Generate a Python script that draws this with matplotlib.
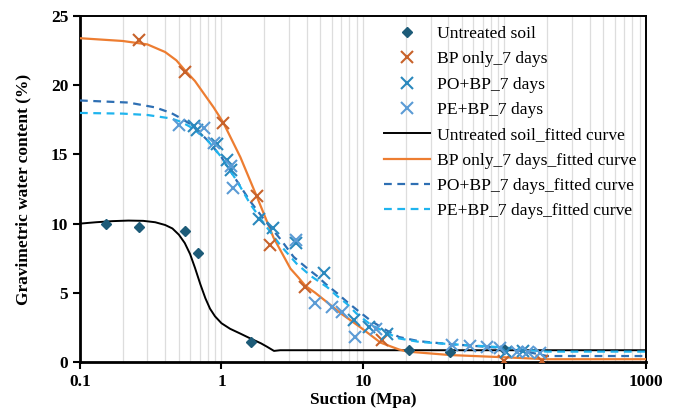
import matplotlib
matplotlib.use("Agg")
import matplotlib.pyplot as plt
from matplotlib.ticker import FixedLocator, LogLocator, NullFormatter

plt.rcParams["font.family"] = ["Liberation Serif", "DejaVu Serif"]

# --- measured points ---
untreated_x = [0.152, 0.263, 0.548, 0.685, 1.62, 21, 41.5, 100]
untreated_y = [9.95, 9.78, 9.49, 7.85, 1.47, 0.9, 0.7, 0.95]

bp_x = [0.263, 0.548, 1.03, 1.77, 2.22, 3.92, 13.7, 98.5, 184]
bp_y = [23.27, 20.98, 17.3, 12.0, 8.45, 5.4, 1.59, 0.08, 0.05]

po_x = [0.64, 0.67, 0.93, 1.1, 1.17, 1.83, 2.33, 3.37, 5.28, 8.6, 11, 14.8, 102, 135]
po_y = [17.05, 16.8, 15.75, 14.6, 13.9, 10.3, 9.7, 8.6, 6.4, 3.0, 2.55, 2.0, 0.75, 0.82]

pe_x = [0.50, 0.75, 0.89, 1.16, 1.2, 3.37, 4.6, 6.05, 7.1, 8.85, 12.3, 42.6, 57, 75,
        93.5, 122, 147, 178]
pe_y = [17.1, 16.9, 15.8, 14.2, 12.55, 8.85, 4.25, 4.0, 3.6, 1.8, 2.4, 1.25, 1.15, 1.1,
        0.98, 0.75, 0.75, 0.65]

# --- fitted curves ---
fit_untreated_x = [0.1, 0.13, 0.17, 0.22, 0.28, 0.34, 0.4, 0.45, 0.5, 0.55, 0.6, 0.65,
                   0.71, 0.77, 0.83, 0.9, 1.0, 1.15, 1.36, 1.6, 1.9, 2.1, 2.35, 2.6,
                   10, 100, 1000]
fit_untreated_y = [10.0, 10.1, 10.18, 10.22, 10.2, 10.1, 9.9, 9.65, 9.2, 8.6, 7.8, 6.8,
                   5.6, 4.6, 3.85, 3.3, 2.8, 2.4, 2.05, 1.7, 1.35, 1.1, 0.8, 0.85,
                   0.85, 0.85, 0.85]

fit_bp_x = [0.1, 0.2, 0.3, 0.4, 0.48, 0.55, 0.65, 0.75, 0.88, 1.03, 1.36, 1.77, 2.33,
            3.07, 3.5, 3.92, 4.6, 5.6, 7, 8.2, 9.6, 11.3, 13.3, 18, 20.6, 41.5, 100,
            200, 1000]
fit_bp_y = [23.4, 23.2, 22.95, 22.4, 21.8, 21.1, 20.3, 19.4, 18.4, 17.3, 14.8, 12.0,
            9.0, 6.75, 6.1, 5.5, 5.0, 4.3, 3.5, 3.0, 2.5, 1.95, 1.4, 0.9, 0.75, 0.5,
            0.34, 0.2, 0.2]

fit_po_x = [0.1, 0.22, 0.34, 0.44, 0.52, 0.6, 0.7, 0.8, 1.0, 1.3, 1.6, 2.0, 2.6, 3.23,
            4.0, 4.75, 5.5, 6.6, 7.8, 9.1, 11.3, 14, 18, 25, 40, 100, 150, 200, 1000]
fit_po_y = [18.9, 18.75, 18.4, 18.0, 17.6, 17.2, 16.6, 16.0, 14.8, 13.0, 11.6, 10.3,
            8.9, 7.6, 6.8, 6.2, 5.6, 4.95, 4.3, 3.75, 3.0, 2.4, 1.8, 1.5, 1.3, 1.0,
            0.7, 0.43, 0.43]

fit_pe_x = [0.1, 0.2, 0.3, 0.44, 0.52, 0.6, 0.7, 0.8, 1.0, 1.3, 1.6, 2.0, 2.6, 3.4,
            4.3, 5.6, 6.5, 7.7, 9, 11, 14, 18, 25, 40, 100, 150, 200, 1000]
fit_pe_y = [18.0, 17.95, 17.85, 17.6, 17.35, 17.0, 16.5, 16.0, 14.8, 13.0, 11.4, 10.0,
            8.45, 7.1, 6.2, 5.4, 4.8, 4.2, 3.5, 2.8, 2.2, 1.7, 1.45, 1.3, 1.05, 0.85,
            0.75, 0.75]

x_ticks = [0.1, 1, 10, 100, 1000]
x_tick_labels = ["0.1", "1", "10", "100", "1000"]
y_ticks = [0, 5, 10, 15, 20, 25]

fig = plt.figure(figsize=(6.8, 4.12), dpi=100)
ax = fig.add_axes([0.1176, 0.1214, 0.8324, 0.8396])

ax.plot(untreated_x, untreated_y, "D", color="#1d5b78", ms=5.5, ls="none",
        label="Untreated soil", zorder=4)
ax.plot(bp_x, bp_y, "x", color="#c8622a", ms=9, mew=1.5, ls="none",
        label="BP only_7 days", zorder=4)
ax.plot(po_x, po_y, "x", color="#2a88bd", ms=9, mew=1.5, ls="none",
        label="PO+BP_7 days", zorder=4)
ax.plot(pe_x, pe_y, "x", color="#5b9bd5", ms=9, mew=1.5, ls="none",
        label="PE+BP_7 days", zorder=4)
ax.plot(fit_untreated_x, fit_untreated_y, color="black", lw=1.4,
        label="Untreated soil_fitted curve", zorder=3)
ax.plot(fit_bp_x, fit_bp_y, color="#ed7d31", lw=1.6,
        label="BP only_7 days_fitted curve", zorder=3)
ax.plot(fit_po_x, fit_po_y, color="#2e6fb3", lw=1.6, ls=(0, (3.5, 2.5)),
        label="PO+BP_7 days_fitted curve", zorder=3)
ax.plot(fit_pe_x, fit_pe_y, color="#1fb4ee", lw=1.6, ls=(0, (3.5, 2.5)),
        label="PE+BP_7 days_fitted curve", zorder=3)

ax.set_xscale("log")
ax.set_xlim(0.1, 1000)
ax.set_ylim(0, 25)
ax.xaxis.set_major_locator(FixedLocator(x_ticks))
ax.set_xticklabels(x_tick_labels)
ax.xaxis.set_minor_locator(LogLocator(base=10, subs=range(2, 10)))
ax.xaxis.set_minor_formatter(NullFormatter())
ax.set_yticks(y_ticks)

ax.grid(True, axis="x", which="both", color="#dddddd", lw=0.9)
ax.set_axisbelow(True)
ax.tick_params(axis="x", which="minor", length=0)
ax.tick_params(axis="both", which="major", direction="out", length=5, width=1.5,
               labelsize=12.5)
ax.tick_params(axis="x", which="major", pad=4)
for lbl in ax.get_xticklabels() + ax.get_yticklabels():
    lbl.set_fontweight("bold")

for side in ["left", "bottom"]:
    ax.spines[side].set_linewidth(2.0)
for side in ["top", "right"]:
    ax.spines[side].set_linewidth(1.4)

ax.set_xlabel("Suction (Mpa)", fontsize=12.5, fontweight="bold", labelpad=1)
ax.set_ylabel("Gravimetric water content (%)", fontsize=12.5, fontweight="bold",
              labelpad=14)

ax.legend(loc="upper right", frameon=False, fontsize=12.6, labelspacing=0.52,
          handlelength=2.6, handletextpad=0.4, borderaxespad=0.15,
          bbox_to_anchor=(1.0, 1.0))

fig.savefig("out.png", dpi=100)
